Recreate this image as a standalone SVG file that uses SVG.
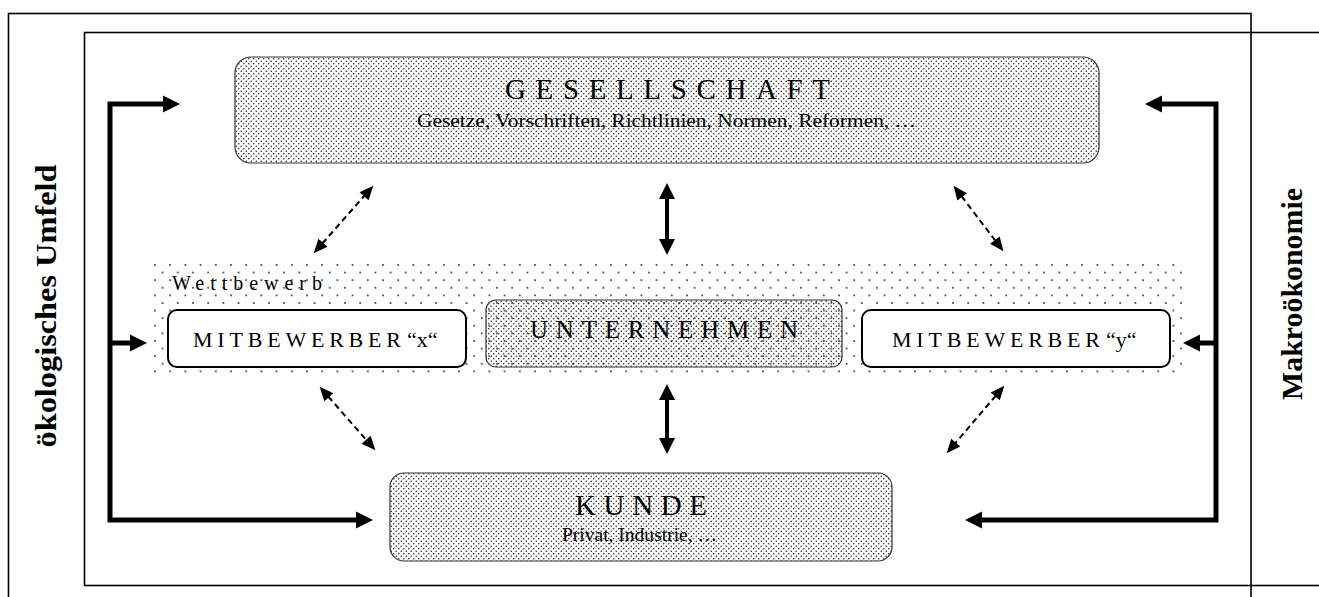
<svg xmlns="http://www.w3.org/2000/svg" width="1319" height="597" viewBox="0 0 1319 597">
  <defs>
    <!-- fine raster used for the main blocks -->
    <pattern id="dense" width="5" height="5" patternUnits="userSpaceOnUse">
      <circle cx="1.25" cy="1.25" r="0.78" fill="#1a1a1a"/>
      <circle cx="3.75" cy="3.75" r="0.78" fill="#1a1a1a"/>
    </pattern>
    <!-- coarse raster for the competition band -->
    <pattern id="sparse" width="15.2" height="15.2" patternUnits="userSpaceOnUse" x="154" y="264">
      <circle cx="1" cy="1" r="1" fill="#333"/>
      <circle cx="8.6" cy="8.6" r="1" fill="#333"/>
    </pattern>
    <marker id="bigHead" markerUnits="userSpaceOnUse" markerWidth="17" markerHeight="17" refX="1" refY="8.5" orient="auto-start-reverse" overflow="visible">
      <path d="M0,0 L17,8.5 L0,17 z" fill="#000"/>
    </marker>
    <marker id="midHead" markerUnits="userSpaceOnUse" markerWidth="16" markerHeight="16" refX="1" refY="8" orient="auto-start-reverse" overflow="visible">
      <path d="M0,0 L16,8 L0,16 z" fill="#000"/>
    </marker>
    <marker id="smallHead" markerUnits="userSpaceOnUse" markerWidth="14" markerHeight="12" refX="1" refY="6" orient="auto-start-reverse" overflow="visible">
      <path d="M0,0 L14,6 L0,12 z" fill="#000"/>
    </marker>
  </defs>
  <style>
    .frame { fill: none; stroke: #000; stroke-width: 1.6; }
    .serif { font-family: "Liberation Serif", "Times New Roman", serif; fill: #000; }
    .side { font-weight: bold; font-size: 30px; }
    .title { font-size: 29px; }
    .sub { font-size: 19px; }
    .rivalText { font-size: 22px; }
    .block { fill: url(#dense); stroke: #333; stroke-width: 1.2; }
    .rival { fill: #fff; stroke: #000; stroke-width: 2; }
    .thick { fill: none; stroke: #000; stroke-width: 5; stroke-linejoin: miter; }
    .double { fill: none; stroke: #000; stroke-width: 4; }
    .dashed { fill: none; stroke: #000; stroke-width: 2; stroke-dasharray: 6 4; }
  </style>

  <rect width="1319" height="597" fill="#fff"/>

  <!-- frames -->
  <g id="frames">
    <rect class="frame" x="8.5" y="13.5" width="1242.5" height="600"/>
    <rect class="frame" x="84.5" y="32.5" width="1300" height="553"/>
  </g>

  <!-- side labels -->
  <g id="label-umfeld">
    <text class="serif side" transform="translate(56,306) rotate(-90)" text-anchor="middle" textLength="283" lengthAdjust="spacingAndGlyphs">ökologisches Umfeld</text>
  </g>
  <g id="label-makro">
    <text class="serif side" transform="translate(1302,294) rotate(-90)" text-anchor="middle" textLength="212" lengthAdjust="spacingAndGlyphs">Makroökonomie</text>
  </g>

  <!-- competition band -->
  <g id="wettbewerb">
    <rect x="150" y="261" width="1033" height="112" rx="3" fill="url(#sparse)"/>
    <text class="serif" x="172" y="290" font-size="20" textLength="150" lengthAdjust="spacing">Wettbewerb</text>
  </g>

  <g id="gesellschaft">
    <rect class="block" x="235" y="57" width="864" height="106" rx="16"/>
    <text class="serif title" x="505" y="99" textLength="325" lengthAdjust="spacing">GESELLSCHAFT</text>
    <text class="serif sub" x="417" y="127" textLength="499" lengthAdjust="spacingAndGlyphs">Gesetze, Vorschriften, Richtlinien, Normen, Reformen, …</text>
  </g>

  <g id="mitbewerber-x">
    <rect class="rival" x="168" y="310" width="298" height="57" rx="9"/>
    <text class="serif rivalText" y="347"><tspan x="193" textLength="208" lengthAdjust="spacing">MITBEWERBER</tspan><tspan x="407">“x“</tspan></text>
  </g>

  <g id="unternehmen">
    <rect class="block" x="486" y="300" width="356" height="67" rx="10" stroke="#555"/>
    <text class="serif" x="530" y="338" font-size="25" textLength="268" lengthAdjust="spacing">UNTERNEHMEN</text>
  </g>

  <g id="mitbewerber-y">
    <rect class="rival" x="862" y="310" width="308" height="57" rx="9"/>
    <text class="serif rivalText" y="347"><tspan x="892" textLength="208" lengthAdjust="spacing">MITBEWERBER</tspan><tspan x="1106">“y“</tspan></text>
  </g>

  <g id="kunde">
    <rect class="block" x="390" y="473" width="502" height="88" rx="14"/>
    <text class="serif title" x="575" y="515" textLength="132" lengthAdjust="spacing">KUNDE</text>
    <text class="serif sub" x="562" y="541" textLength="155" lengthAdjust="spacingAndGlyphs">Privat, Industrie, …</text>
  </g>

  <!-- connectors -->
  <g id="connectors">
    <!-- left environment loop -->
    <path class="thick" d="M164,104 H110 V520 H357" marker-start="url(#bigHead)" marker-end="url(#bigHead)"/>
    <path class="thick" d="M110,343 H131" marker-end="url(#bigHead)"/>
    <!-- right environment loop -->
    <path class="thick" d="M1161,104 H1216 V520 H981" marker-start="url(#bigHead)" marker-end="url(#bigHead)"/>
    <path class="thick" d="M1216,343 H1199" marker-end="url(#bigHead)"/>
    <!-- direct links of the company -->
    <path class="double" d="M667,198 V240" marker-start="url(#midHead)" marker-end="url(#midHead)"/>
    <path class="double" d="M667,399 V439" marker-start="url(#midHead)" marker-end="url(#midHead)"/>
    <!-- indirect links of the competitors -->
    <path class="dashed" d="M322.3,243.5 L364.7,195.5" marker-start="url(#smallHead)" marker-end="url(#smallHead)"/>
    <path class="dashed" d="M961.5,196.1 L995.5,240.9" marker-start="url(#smallHead)" marker-end="url(#smallHead)"/>
    <path class="dashed" d="M328.2,396.5 L366.8,440.5" marker-start="url(#smallHead)" marker-end="url(#smallHead)"/>
    <path class="dashed" d="M995.9,395.6 L955.1,443.4" marker-start="url(#smallHead)" marker-end="url(#smallHead)"/>
  </g>
</svg>
